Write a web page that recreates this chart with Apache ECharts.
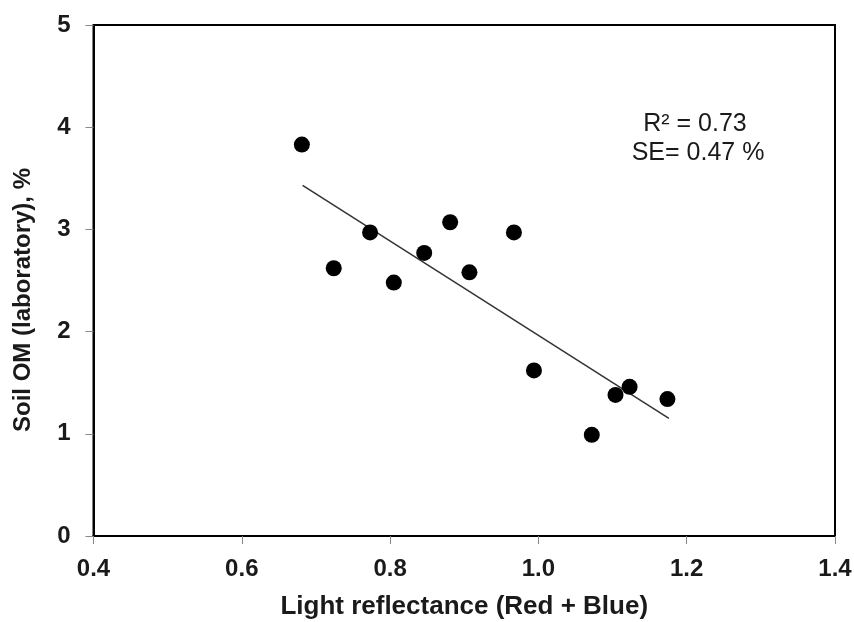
<!DOCTYPE html>
<html>
<head>
<meta charset="utf-8">
<script src="https://cdn.jsdelivr.net/npm/echarts@6/dist/echarts.min.js"></script>
<style>
  html, body { margin: 0; padding: 0; background: #fff; }
  #chart { width: 854px; height: 622px; }
</style>
</head>
<body>
<div id="chart"></div>
<script>
// Light reflectance (Red + Blue) vs laboratory soil organic matter
const reflectance = [0.681, 0.724, 0.773, 0.805, 0.846, 0.881, 0.907, 0.967, 0.994, 1.072, 1.104, 1.123, 1.174];
const soilOM      = [3.83, 2.62, 2.97, 2.48, 2.77, 3.07, 2.58, 2.97, 1.62, 0.99, 1.38, 1.46, 1.34];

// Fitted regression line end points
const fitX = [0.682, 1.176];
const fitY = [3.43, 1.15];

const xTicks = [0.4, 0.6, 0.8, 1.0, 1.2, 1.4];
const yTicks = [0, 1, 2, 3, 4, 5];

const statLines = ['R² = 0.73', 'SE= 0.47 %'];

const FONT = '"Liberation Sans", Arial, sans-serif';

const chart = echarts.init(document.getElementById('chart'), null, { renderer: 'canvas' });

const points = reflectance.map((x, i) => [x, soilOM[i]]);
const fit = fitX.map((x, i) => [x, fitY[i]]);

chart.setOption({
  animation: false,
  backgroundColor: '#fff',
  grid: {
    left: 93.5, right: 19, top: 25, bottom: 86,
    outerBoundsMode: 'none',
    containLabel: false,
    show: true, borderColor: '#000', borderWidth: 2, backgroundColor: 'transparent'
  },
  xAxis: {
    type: 'value',
    min: xTicks[0], max: xTicks[xTicks.length - 1], interval: 0.2,
    name: 'Light reflectance (Red + Blue)',
    nameLocation: 'middle', nameGap: 58,
    nameTextStyle: { fontFamily: FONT, fontWeight: 'bold', fontSize: 26, color: '#1a1a1a' },
    axisLine: { show: true, lineStyle: { color: '#000', width: 2 } },
    axisTick: { show: true, inside: false, length: 8, lineStyle: { color: '#888', width: 1 } },
    axisLabel: {
      fontFamily: FONT, fontWeight: 'bold', fontSize: 24, color: '#1a1a1a', margin: 21,
      formatter: v => v.toFixed(1)
    },
    splitLine: { show: false }
  },
  yAxis: {
    type: 'value',
    min: yTicks[0], max: yTicks[yTicks.length - 1], interval: 1,
    axisLine: { show: true, lineStyle: { color: '#000', width: 2 } },
    axisTick: { show: true, inside: false, length: 8, lineStyle: { color: '#888', width: 1 } },
    axisLabel: {
      fontFamily: FONT, fontWeight: 'bold', fontSize: 24, color: '#1a1a1a', margin: 23
    },
    splitLine: { show: false }
  },
  graphic: [
    {
      type: 'text',
      x: 23, y: 300, rotation: Math.PI / 2,
      style: {
        text: 'Soil OM (laboratory), %',
        fontFamily: FONT, fontWeight: 'bold', fontSize: 24, fill: '#1a1a1a',
        align: 'center', verticalAlign: 'middle'
      }
    },
    {
      type: 'text',
      x: 695, y: 124,
      style: {
        text: statLines[0],
        fontFamily: FONT, fontSize: 25, fill: '#1a1a1a',
        align: 'center', verticalAlign: 'middle'
      }
    },
    {
      type: 'text',
      x: 698, y: 153,
      style: {
        text: statLines[1],
        fontFamily: FONT, fontSize: 25, fill: '#1a1a1a',
        align: 'center', verticalAlign: 'middle'
      }
    }
  ],
  series: [
    {
      type: 'line',
      data: fit,
      symbol: 'none',
      lineStyle: { color: '#333', width: 1.5 },
      z: 2
    },
    {
      type: 'scatter',
      data: points,
      symbol: 'circle',
      symbolSize: 16,
      itemStyle: { color: '#000', opacity: 1 },
      z: 3
    }
  ]
});
</script>
</body>
</html>
